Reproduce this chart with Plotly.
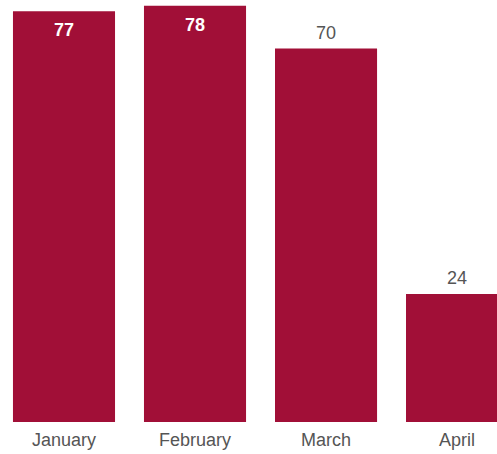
import plotly.graph_objects as go

months = ["January", "February", "March", "April"]
values = [77, 78, 70, 24]
label_inside = [True, True, False, False]

BAR_COLOR = "#A10F37"

fig = go.Figure(go.Bar(
    x=months, y=values,
    marker=dict(color=BAR_COLOR, line=dict(width=0)),
    hoverinfo="x+y",
))

for m, v, inside in zip(months, values, label_inside):
    fig.add_annotation(
        x=m, y=v, text=str(v), showarrow=False,
        xanchor="center", yanchor="middle",
        yshift=-19 if inside else 16,
        font=dict(family="Liberation Sans, Arial, sans-serif", size=18,
                  color="#ffffff" if inside else "#555555",
                  weight="bold" if inside else "normal"),
    )

fig.update_layout(
    width=497, height=454,
    margin=dict(l=0, r=0, t=0, b=32, pad=0),
    paper_bgcolor="white", plot_bgcolor="white",
    bargap=0.221,
    showlegend=False,
    font=dict(family="Liberation Sans, Arial, sans-serif", size=18, color="#555555"),
    xaxis=dict(range=[-0.4885, 3.305], showgrid=False, zeroline=False, showline=False,
               ticks="", ticklabelstandoff=5, tickfont=dict(size=18, color="#555555")),
    yaxis=dict(range=[0, 79.1], showgrid=False, zeroline=False, showline=False,
               showticklabels=False, ticks=""),
)

fig.write_html("out.html",
               config={"displayModeBar": False},
               post_script="document.body.style.margin='0';document.body.style.overflow='hidden';")
